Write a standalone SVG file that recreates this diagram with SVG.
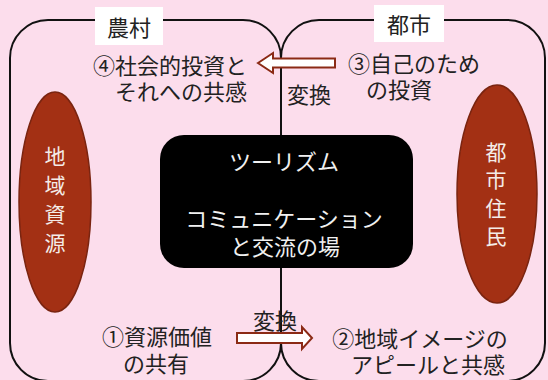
<svg xmlns="http://www.w3.org/2000/svg" width="548" height="380" viewBox="0 0 548 380">
<style>
  text { font-family: "Noto Sans CJK JP", "Noto Sans", sans-serif; font-size: 22px; fill: #222; text-anchor: middle; dominant-baseline: central; }
  .region { fill: none; stroke: #111; stroke-width: 2; }
  .label { fill: #fff; }
  .res { fill: #A33014; stroke: #7A2410; stroke-width: 1.5; }
  .res-t { fill: #f4ece8; font-size: 21px; }
  .hub { fill: #000; }
  .hub-t { fill: #f0f0f0; }
  .arrow { fill: #fff; stroke: #8B2A15; stroke-width: 2; stroke-linejoin: miter; }
</style>
<rect x="0" y="0" width="548" height="380" fill="#FCDDEC"/>

<g id="connectors">
  <path class="region" d="M 48 20 H 243 A 38 38 0 0 1 281 58 V 343 A 38 38 0 0 1 243 381 H 48 A 38 38 0 0 1 10 343 V 58 A 38 38 0 0 1 48 20 Z"/>
  <path class="region" d="M 319 20 H 507 A 38 38 0 0 1 545 58 V 343 A 38 38 0 0 1 507 381 H 319 A 38 38 0 0 1 281 343 V 58 A 38 38 0 0 1 319 20 Z"/>
  <path class="arrow" d="M 258 63 L 273 53 L 273 58.5 L 335 58.5 L 335 67.5 L 273 67.5 L 273 73 Z"/>
  <path class="arrow" d="M 312 338 L 302 327 L 302 333 L 237 333 L 237 343 L 302 343 L 302 349 Z"/>
</g>

<g id="rural-label">
  <rect class="label" x="95" y="7" width="68" height="38"/>
  <text x="129" y="26">農村</text>
</g>
<g id="urban-label">
  <rect class="label" x="374" y="5" width="70" height="37"/>
  <text x="409" y="23">都市</text>
</g>

<g id="step4">
  <text x="170" y="64">④社会的投資と</text>
  <text x="181" y="90">それへの共感</text>
</g>
<g id="step3">
  <text x="414" y="62">③自己のため</text>
  <text x="399" y="88">の投資</text>
</g>
<g id="convert-top">
  <text x="309" y="93">変換</text>
</g>

<g id="local-resources">
  <ellipse class="res" cx="55" cy="202" rx="36" ry="110"/>
  <text class="res-t" x="55" y="155">地</text>
  <text class="res-t" x="55" y="184">域</text>
  <text class="res-t" x="55" y="213">資</text>
  <text class="res-t" x="55" y="242">源</text>
</g>

<g id="urban-residents">
  <ellipse class="res" cx="497" cy="194" rx="40" ry="109"/>
  <text class="res-t" x="496" y="151">都</text>
  <text class="res-t" x="496" y="178">市</text>
  <text class="res-t" x="496" y="207">住</text>
  <text class="res-t" x="496" y="235">民</text>
</g>

<g id="tourism">
  <rect class="hub" x="160" y="135" width="253" height="133" rx="24"/>
  <text class="hub-t" x="284" y="160">ツーリズム</text>
  <text class="hub-t" x="284" y="217">コミュニケーション</text>
  <text class="hub-t" x="285" y="245">と交流の場</text>
</g>

<g id="step1">
  <text x="157" y="335">①資源価値</text>
  <text x="156" y="362">の共有</text>
</g>
<g id="convert-bottom">
  <text x="275" y="319">変換</text>
</g>
<g id="step2">
  <text x="420" y="337">②地域イメージの</text>
  <text x="428" y="363">アピールと共感</text>
</g>
</svg>
